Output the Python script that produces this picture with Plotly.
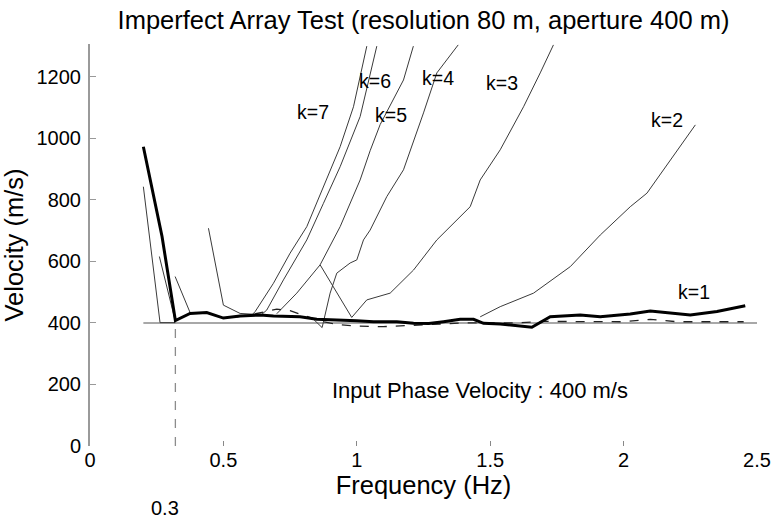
import plotly.graph_objects as go

# ---- data ----
k1_f = [0.20, 0.27, 0.32, 0.375, 0.4375, 0.5, 0.5625, 0.6375, 0.6875, 0.7875, 0.85, 0.9375,
        1.0, 1.0625, 1.15, 1.2125, 1.27, 1.325, 1.3875, 1.4375, 1.475, 1.5375, 1.5875, 1.656,
        1.725, 1.8375, 1.9125, 2.025, 2.1, 2.25, 2.35, 2.456]
k1_v = [973, 681, 408, 431, 434, 416, 423, 426, 423, 420, 412, 410,
        407, 404, 404, 399, 398, 404, 412, 412, 399, 397, 393, 386,
        420, 426, 420, 429, 439, 426, 437, 456]

k2_f = [1.4625, 1.5375, 1.6625, 1.8, 1.9125, 2.025, 2.0875, 2.269]
k2_v = [420, 453, 497, 583, 686, 778, 822, 1044]

k3_f = [0.8625, 0.981, 1.0375, 1.125, 1.2125, 1.3, 1.425, 1.4625, 1.5375, 1.625, 1.6875, 1.737]
k3_v = [589, 418, 475, 497, 572, 670, 778, 865, 963, 1103, 1213, 1304]

k4_f = [0.84, 0.87, 0.90, 0.925, 0.975, 1.0, 1.025, 1.05, 1.1125, 1.175, 1.25, 1.3, 1.38]
k4_v = [410, 385, 497, 562, 595, 605, 670, 702, 811, 898, 1083, 1213, 1304]

k5_f = [0.70, 0.775, 0.8625, 0.9375, 1.0125, 1.05, 1.0875, 1.175, 1.212]
k5_v = [430, 497, 589, 713, 865, 960, 1045, 1190, 1300]

k6_f = [0.64, 0.6625, 0.725, 0.8125, 0.875, 0.9375, 1.0125, 1.075]
k6_v = [425, 442, 540, 670, 789, 908, 1071, 1300]

k7_f = [0.60, 0.619, 0.6875, 0.75, 0.8125, 0.875, 0.9375, 0.9875, 1.0375]
k7_v = [420, 437, 529, 627, 713, 843, 973, 1103, 1300]

# low-frequency spikes of the higher modes
sp1_f = [0.20, 0.2625, 0.32]
sp1_v = [843, 401, 401]
sp2_f = [0.26, 0.32]
sp2_v = [616, 405]
sp3_f = [0.319, 0.375]
sp3_v = [551, 434]
sp4_f = [0.444, 0.5, 0.5625, 0.62]
sp4_v = [708, 458, 431, 428]

# dashed estimate running close to the input velocity
dsh_f = [0.55, 0.62, 0.70, 0.75, 0.80, 0.87, 0.93, 1.0, 1.1, 1.2, 1.3, 1.4, 1.5, 1.6,
         1.7, 1.8, 1.9, 2.0, 2.1, 2.2, 2.3, 2.45]
dsh_v = [420, 430, 445, 440, 425, 405, 395, 390, 388, 392, 398, 400, 400, 400,
         405, 405, 404, 404, 412, 404, 404, 404]

input_f = [0.2, 2.5]
input_v = [400, 400]
cut_f = [0.32, 0.32]
cut_v = [0, 400]

labels = ["k=1", "k=2", "k=3", "k=4", "k=5", "k=6", "k=7"]
label_f = [2.262, 2.162, 1.544, 1.306, 1.13, 1.07, 0.836]
label_v = [502, 1060, 1180, 1196, 1076, 1187, 1086]

x_ticks = [0, 0.5, 1, 1.5, 2, 2.5]
x_tick_text = ["0", "0.5", "1", "1.5", "2", "2.5"]
y_ticks = [0, 200, 400, 600, 800, 1000, 1200]

FONT = "Liberation Sans, Arial, sans-serif"
thin = dict(color="#3a3a3a", width=1)

fig = go.Figure()
fig.add_trace(go.Scatter(x=input_f, y=input_v, mode="lines",
                         line=dict(color="#a8a8a8", width=2), hoverinfo="skip"))
fig.add_trace(go.Scatter(x=cut_f, y=cut_v, mode="lines",
                         line=dict(color="#8c8c8c", width=1.3, dash="dash"), hoverinfo="skip"))
for fx, vy in [(sp1_f, sp1_v), (sp2_f, sp2_v), (sp3_f, sp3_v), (sp4_f, sp4_v),
               (k7_f, k7_v), (k6_f, k6_v), (k5_f, k5_v), (k4_f, k4_v),
               (k3_f, k3_v), (k2_f, k2_v)]:
    fig.add_trace(go.Scatter(x=fx, y=vy, mode="lines", line=thin))
fig.add_trace(go.Scatter(x=dsh_f, y=dsh_v, mode="lines",
                         line=dict(color="#222", width=1.3, dash="dash")))
fig.add_trace(go.Scatter(x=k1_f, y=k1_v, mode="lines",
                         line=dict(color="black", width=3)))

for t, fx, vy in zip(labels, label_f, label_v):
    fig.add_annotation(x=fx, y=vy, text=t, showarrow=False,
                       font=dict(family=FONT, size=19.5, color="black"))

fig.add_annotation(x=1.46, y=179, text="Input Phase Velocity : 400 m/s", showarrow=False,
                   font=dict(family=FONT, size=22, color="black"))
fig.add_annotation(x=0.28, y=-0.154, yref="paper", yanchor="middle", text="0.3",
                   showarrow=False, font=dict(family=FONT, size=20, color="black"))

fig.update_layout(
    width=775, height=519,
    margin=dict(l=90, r=18, t=44, b=73, autoexpand=False),
    paper_bgcolor="white", plot_bgcolor="white",
    showlegend=False,
    font=dict(family=FONT, color="black"),
    title=dict(text="Imperfect Array Test (resolution 80 m, aperture 400 m)",
               x=0.5, xref="paper", y=0.961, yref="container", yanchor="middle",
               font=dict(family=FONT, size=25.5, color="black")),
    xaxis=dict(range=[0, 2.5], tickvals=x_ticks, ticktext=x_tick_text,
               ticks="inside", ticklen=5, tickcolor="#888", tickwidth=1,
               showline=False, showgrid=False, zeroline=False, automargin=False,
               tickfont=dict(family=FONT, size=20, color="black"),
               title=dict(text="Frequency (Hz)", standoff=4,
                          font=dict(family=FONT, size=25.5, color="black"))),
    yaxis=dict(range=[0, 1307], tickvals=y_ticks,
               ticks="inside", ticklen=6, tickcolor="#999", tickwidth=1,
               showline=True, linecolor="#9a9a9a", linewidth=2,
               showgrid=False, zeroline=False, ticklabelstandoff=3, automargin=False,
               tickfont=dict(family=FONT, size=20, color="black"),
               title=dict(text="Velocity (m/s)", standoff=6,
                          font=dict(family=FONT, size=25.5, color="black"))),
)

fig.write_html("out.html")
